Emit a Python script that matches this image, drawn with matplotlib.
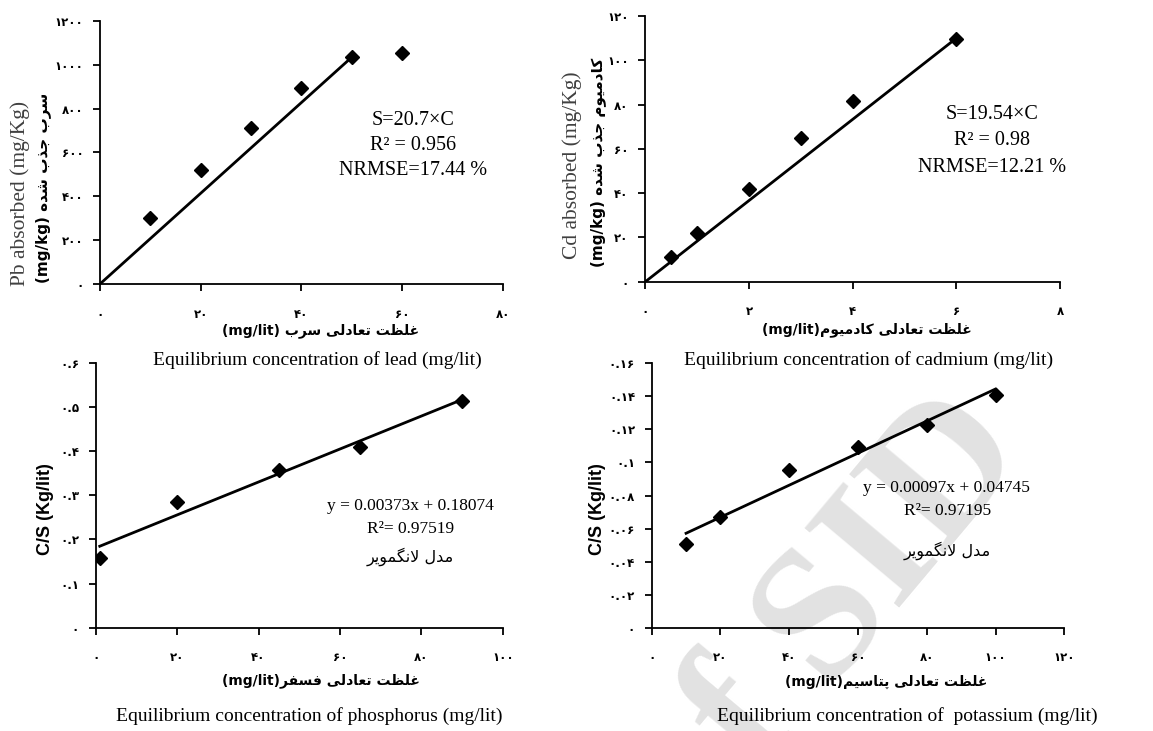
import numpy as np
import matplotlib
matplotlib.use('Agg')
import matplotlib.pyplot as plt

# ---- data ----
pb_c = [10, 20, 30, 40, 50, 60]
pb_s = [300, 520, 710, 896, 1037, 1055]
pb_fit_x = [0, 50]
pb_slope = 20.7

cd_c = [0.5, 1, 2, 3, 4, 6]
cd_s = [11.3, 22.1, 41.9, 64.7, 81.8, 109.5]
cd_fit_x = [0, 6]
cd_fit_y = [0, 110]

p_c = [1, 20, 45, 65, 90]
p_cs = [0.158, 0.284, 0.357, 0.410, 0.513]
p_fit = (0.00373, 0.18074)

k_c = [10, 20, 40, 60, 80, 100]
k_cs = [0.0504, 0.0672, 0.0954, 0.1092, 0.1227, 0.1408]
k_fit = (0.00097, 0.04745)

pb_xticks = [0, 20, 40, 60, 80]
pb_yticks = [0, 200, 400, 600, 800, 1000, 1200]
cd_xticks = [0, 2, 4, 6, 8]
cd_yticks = [0, 20, 40, 60, 80, 100, 120]
p_xticks = [0, 20, 40, 60, 80, 100]
p_yticks = [0, 0.1, 0.2, 0.3, 0.4, 0.5, 0.6]
k_xticks = [0, 20, 40, 60, 80, 100, 120]
k_yticks = [0, 0.02, 0.04, 0.06, 0.08, 0.1, 0.12, 0.14, 0.16]

# ---- simple persian shaping (matplotlib has no text shaping) ----
FORMS = {
    'ا': ('\uFE8D', '\uFE8E', None, None),
    'ب': ('\uFE8F', '\uFE90', '\uFE91', '\uFE92'),
    'پ': ('\uFB56', '\uFB57', '\uFB58', '\uFB59'),
    'ت': ('\uFE95', '\uFE96', '\uFE97', '\uFE98'),
    'ج': ('\uFE9D', '\uFE9E', '\uFE9F', '\uFEA0'),
    'د': ('\uFEA9', '\uFEAA', None, None),
    'ذ': ('\uFEAB', '\uFEAC', None, None),
    'ر': ('\uFEAD', '\uFEAE', None, None),
    'س': ('\uFEB1', '\uFEB2', '\uFEB3', '\uFEB4'),
    'ش': ('\uFEB5', '\uFEB6', '\uFEB7', '\uFEB8'),
    'ظ': ('\uFEC5', '\uFEC6', '\uFEC7', '\uFEC8'),
    'ع': ('\uFEC9', '\uFECA', '\uFECB', '\uFECC'),
    'غ': ('\uFECD', '\uFECE', '\uFECF', '\uFED0'),
    'ف': ('\uFED1', '\uFED2', '\uFED3', '\uFED4'),
    'ک': ('\uFB8E', '\uFB8F', '\uFB90', '\uFB91'),
    'گ': ('\uFB92', '\uFB93', '\uFB94', '\uFB95'),
    'ل': ('\uFEDD', '\uFEDE', '\uFEDF', '\uFEE0'),
    'م': ('\uFEE1', '\uFEE2', '\uFEE3', '\uFEE4'),
    'ن': ('\uFEE5', '\uFEE6', '\uFEE7', '\uFEE8'),
    'ه': ('\uFEE9', '\uFEEA', '\uFEEB', '\uFEEC'),
    'و': ('\uFEED', '\uFEEE', None, None),
    'ی': ('\uFBFC', '\uFBFD', '\uFBFE', '\uFBFF'),
}


def fa(text):
    out = []
    i = 0
    n = len(text)
    while i < n:
        c = text[i]
        if c not in FORMS:
            out.append(c)
            i += 1
            continue
        prev = text[i - 1] if i > 0 else None
        join_prev = prev in FORMS and FORMS[prev][2] is not None
        nxt = text[i + 1] if i + 1 < n else None
        if c == 'ل' and nxt == 'ا':
            out.append('\uFEFC' if join_prev else '\uFEFB')
            i += 2
            continue
        join_next = FORMS[c][2] is not None and nxt in FORMS
        if join_prev and join_next:
            out.append(FORMS[c][3])
        elif join_prev:
            out.append(FORMS[c][1])
        elif join_next:
            out.append(FORMS[c][2])
        else:
            out.append(FORMS[c][0])
        i += 1
    return ''.join(out)[::-1]


DIG = str.maketrans('0123456789', '۰۱۲۳۴۵۶۷۸۹')


def fa_num(v):
    s = '0' if v == 0 else '{:g}'.format(v)
    return s.translate(DIG)


SERIF = 'Liberation Serif'
FA = 'DejaVu Sans'

fig = plt.figure(figsize=(11.53, 7.31), dpi=100)
fig.patch.set_facecolor('white')

# watermark, on a background axes so everything else sits above it
bg = fig.add_axes([0, 0, 1, 1], zorder=-5)
bg.axis('off')
bg.text(0.745, 0.20, 'f SID', fontsize=135, family=SERIF, fontweight='bold',
        color='#e2e2e2', rotation=50, ha='center', va='center', transform=bg.transAxes)


def setup(ax, xt, yt):
    ax.patch.set_alpha(0)
    for s in ['top', 'right']:
        ax.spines[s].set_visible(False)
    for s in ['left', 'bottom']:
        ax.spines[s].set_linewidth(1.3)
    ax.set_xticks(xt)
    ax.set_yticks(yt)
    ax.set_xlim(xt[0], xt[-1])
    ax.set_ylim(yt[0], yt[-1])
    ax.set_xticklabels([fa_num(v) for v in xt], family=FA, fontweight='bold', fontsize=8.5)
    ax.set_yticklabels([fa_num(v) for v in yt], family=FA, fontweight='bold', fontsize=8.5)
    ax.tick_params(axis='x', direction='out', length=5, width=1.3, pad=12)
    ax.tick_params(axis='y', direction='out', length=5, width=1.3, pad=7)


mk = dict(marker='D', color='black', markersize=7, linestyle='none', zorder=3)
big = dict(family=SERIF, fontsize=14.5, ha='center', va='center')
small = dict(family=SERIF, fontsize=12.5, ha='center', va='center')
fa_note = dict(family=FA, fontsize=11.5, ha='center', va='center')

# --- lead ---
ax1 = fig.add_axes([0.0867, 0.6115, 0.3495, 0.3598])
setup(ax1, pb_xticks, pb_yticks)
ax1.plot(pb_c, pb_s, **mk)
ax1.plot(pb_fit_x, [pb_slope * x for x in pb_fit_x], color='black', lw=2)
ax1.text(62.1, 744, 'S=20.7×C', **big)
ax1.text(62.1, 630, 'R² = 0.956', **big)
ax1.text(62.1, 520, 'NRMSE=17.44 %', **big)

# --- cadmium ---
ax2 = fig.add_axes([0.5597, 0.6146, 0.3597, 0.3635])
setup(ax2, cd_xticks, cd_yticks)
ax2.plot(cd_c, cd_s, **mk)
ax2.plot(cd_fit_x, cd_fit_y, color='black', lw=2)
ax2.text(6.68, 75.7, 'S=19.54×C', **big)
ax2.text(6.68, 64.0, 'R² = 0.98', **big)
ax2.text(6.68, 51.4, 'NRMSE=12.21 %', **big)

# --- phosphorus ---
ax3 = fig.add_axes([0.0830, 0.1413, 0.3530, 0.3625])
setup(ax3, p_xticks, p_yticks)
ax3.plot(p_c, p_cs, **mk)
px = np.array([p_c[0], p_c[-1]])
ax3.plot(px, p_fit[0] * px + p_fit[1], color='black', lw=2)
ax3.text(77.4, 0.276, 'y = 0.00373x + 0.18074', **small)
ax3.text(77.4, 0.2235, 'R²= 0.97519', **small)
ax3.text(77.2, 0.161, fa('مدل لانگمویر'), **fa_note)

# --- potassium ---
ax4 = fig.add_axes([0.5652, 0.1413, 0.3579, 0.3617])
setup(ax4, k_xticks, k_yticks)
ax4.plot(k_c, k_cs, **mk)
kx = np.array([k_c[0], k_c[-1]])
ax4.plot(kx, k_fit[0] * kx + k_fit[1], color='black', lw=2)
ax4.text(85.8, 0.0847, 'y = 0.00097x + 0.04745', **small)
ax4.text(86, 0.0706, 'R²= 0.97195', **small)
ax4.text(86, 0.0466, fa('مدل لانگمویر'), **fa_note)

# ---- axis titles (figure coords, pixels from top) ----
W, H = 1153, 731


def ftxt(x, y, s, **kw):
    fig.text(x / W, 1 - y / H, s, ha='center', va='center', **kw)


fa_kw = dict(family=FA, fontweight='bold', fontsize=10)
fa_ykw = dict(family=FA, fontweight='bold', fontsize=11)
en_kw = dict(family=SERIF, fontsize=14)

ftxt(321, 331, '(mg/lit) ' + fa('غلظت تعادلی سرب'), **fa_kw)
ftxt(317, 360, 'Equilibrium concentration of lead (mg/lit)', **en_kw)
ftxt(867, 330, '(mg/lit)' + fa('غلظت تعادلی کادمیوم'), **fa_kw)
ftxt(869, 360, 'Equilibrium concentration of cadmium (mg/lit)', **en_kw)
ftxt(321, 681, '(mg/lit)' + fa('غلظت تعادلی فسفر'), **fa_kw)
ftxt(309, 716, 'Equilibrium concentration of phosphorus (mg/lit)', **en_kw)
ftxt(886, 682, '(mg/lit)' + fa('غلظت تعادلی پتاسیم'), **fa_kw)
ftxt(907, 716, 'Equilibrium concentration of  potassium (mg/lit)', **en_kw)

ftxt(20, 193, 'Pb absorbed (mg/Kg)', rotation=90, family=SERIF, fontsize=15.5, color='#404040')
ftxt(43, 188, '(mg/kg) ' + fa('سرب جذب شده'), rotation=90, **fa_ykw)
ftxt(572, 165, 'Cd absorbed (mg/Kg)', rotation=90, family=SERIF, fontsize=15.5, color='#404040')
ftxt(598, 162, '(mg/kg) ' + fa('کادمیوم جذب شده'), rotation=90, **fa_ykw)
ftxt(45, 509, 'C/S (Kg/lit)', rotation=90, family='Liberation Sans', fontweight='bold', fontsize=13)
ftxt(598, 509, 'C/S (Kg/lit)', rotation=90, family='Liberation Sans', fontweight='bold', fontsize=13)

fig.savefig('out.png', dpi=100)
